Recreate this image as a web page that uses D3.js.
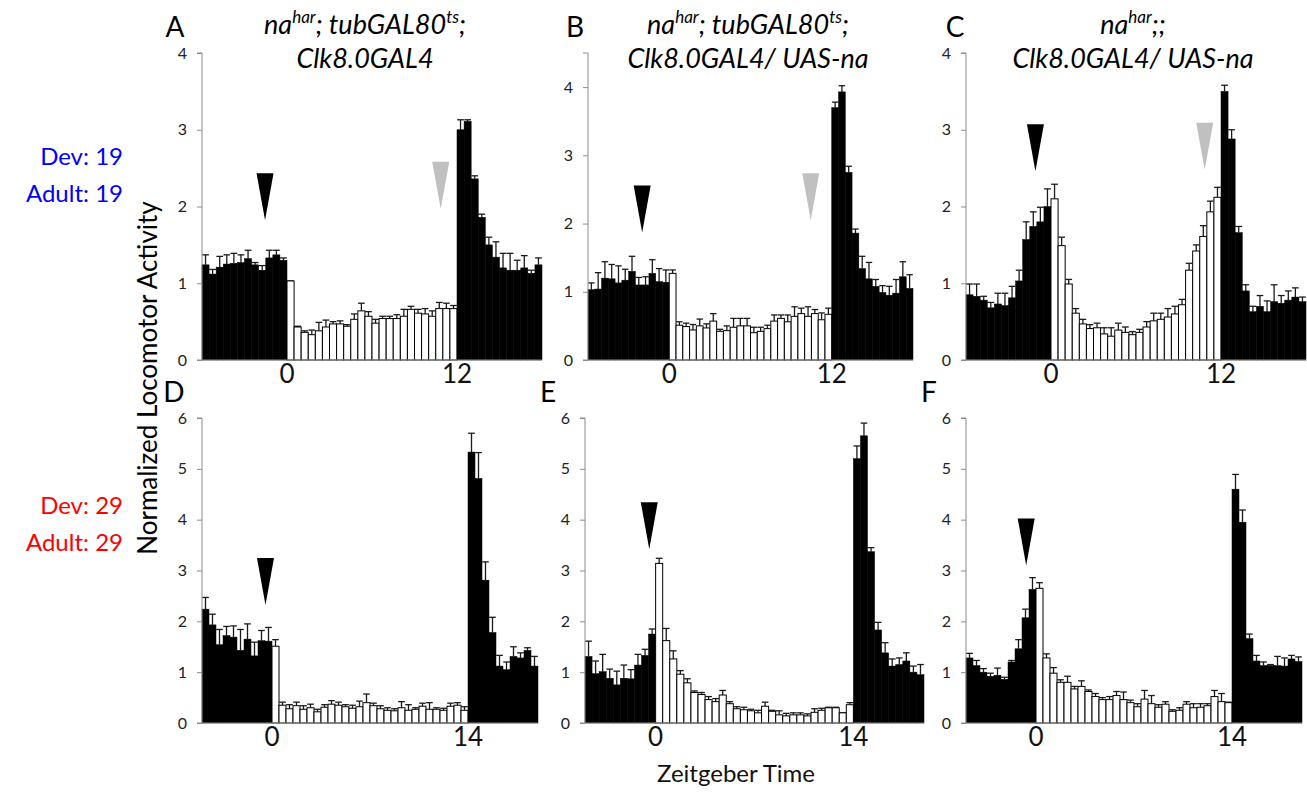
<!DOCTYPE html>
<html>
<head>
<meta charset="utf-8">
<script src="https://cdn.jsdelivr.net/npm/d3@7"></script>
<style>
  body { margin: 0; background: #fff; }
  svg { display: block; font-family: Lato, "Open Sans", sans-serif; }
</style>
</head>
<body>
<svg id="fig" width="1307" height="793"></svg>
<script>
// 30-min bins, 48 per panel. Top row: 12 dark / 24 light / 12 dark, bottom row: 10 / 28 / 10
const aMean = [1.24,1.12,1.21,1.25,1.26,1.27,1.32,1.24,1.17,1.33,1.37,1.30,
  1.03,0.43,0.36,0.33,0.38,0.43,0.47,0.47,0.44,0.53,0.64,0.57,0.48,0.54,0.54,0.54,0.57,0.66,0.61,0.60,0.57,0.67,0.67,0.67,
  3.00,3.11,2.36,1.86,1.50,1.34,1.20,1.17,1.17,1.20,1.13,1.24];
const aSem = [0.13,0.06,0.14,0.12,0.13,0.10,0.11,0.03,0.06,0.10,0.06,0.03,
  0.00,0.01,0.02,0.06,0.11,0.09,0.03,0.04,0.02,0.07,0.10,0.06,0.05,0.03,0.03,0.05,0.09,0.04,0.05,0.07,0.07,0.08,0.07,0.04,
  0.13,0.02,0.04,0.04,0.10,0.20,0.19,0.22,0.13,0.16,0.04,0.09];

const bMean = [1.03,1.04,1.20,1.19,1.13,1.17,1.30,1.10,1.10,1.27,1.15,1.14,
  1.27,0.51,0.49,0.44,0.50,0.47,0.57,0.42,0.43,0.48,0.50,0.50,0.40,0.42,0.46,0.57,0.61,0.56,0.64,0.68,0.64,0.68,0.59,0.67,
  3.70,3.93,2.75,1.86,1.34,1.19,1.08,0.99,0.95,0.98,1.22,1.05];
const bSem = [0.10,0.24,0.24,0.21,0.25,0.16,0.22,0.11,0.12,0.20,0.19,0.18,
  0.05,0.05,0.05,0.08,0.10,0.06,0.11,0.03,0.07,0.13,0.11,0.11,0.08,0.06,0.05,0.09,0.05,0.10,0.14,0.08,0.14,0.06,0.10,0.09,
  0.08,0.09,0.09,0.06,0.18,0.24,0.10,0.10,0.13,0.20,0.22,0.20];

const cMean = [0.85,0.83,0.78,0.68,0.73,0.71,0.81,1.03,1.57,1.74,1.80,2.00,
  2.10,1.49,0.99,0.61,0.47,0.41,0.42,0.34,0.31,0.39,0.36,0.33,0.36,0.43,0.51,0.53,0.56,0.60,0.72,1.17,1.42,1.61,1.93,2.12,
  3.50,2.88,1.66,0.90,0.63,0.70,0.63,0.76,0.74,0.78,0.82,0.76];
const cSem = [0.14,0.16,0.05,0.07,0.14,0.16,0.15,0.14,0.23,0.19,0.19,0.23,
  0.19,0.11,0.06,0.06,0.06,0.05,0.06,0.08,0.11,0.09,0.07,0.04,0.04,0.07,0.10,0.08,0.11,0.10,0.07,0.09,0.08,0.14,0.14,0.13,
  0.08,0.12,0.08,0.08,0.07,0.14,0.14,0.22,0.10,0.12,0.12,0.06];

const dMean = [2.24,1.93,1.54,1.72,1.69,1.43,1.65,1.32,1.62,1.61,
  1.51,0.35,0.28,0.34,0.27,0.30,0.22,0.31,0.37,0.35,0.32,0.29,0.32,0.40,0.34,0.28,0.25,0.24,0.30,0.25,0.27,0.33,0.27,0.27,0.25,0.33,0.35,0.25,
  5.33,4.81,2.81,1.78,1.12,1.05,1.31,1.28,1.43,1.12];
const dSem = [0.23,0.21,0.30,0.18,0.22,0.41,0.30,0.27,0.20,0.27,
  0.13,0.06,0.08,0.07,0.07,0.07,0.05,0.05,0.07,0.06,0.04,0.06,0.11,0.17,0.05,0.06,0.05,0.04,0.12,0.11,0.03,0.06,0.13,0.03,0.04,0.06,0.05,0.07,
  0.37,0.51,0.36,0.30,0.21,0.15,0.19,0.10,0.05,0.19];

const eMean = [1.31,0.97,1.01,0.88,0.75,0.88,0.87,1.14,1.33,1.75,
  3.14,1.62,1.26,0.96,0.79,0.60,0.56,0.46,0.42,0.55,0.38,0.28,0.26,0.24,0.20,0.33,0.23,0.16,0.14,0.16,0.16,0.14,0.21,0.25,0.30,0.30,0.20,0.36,
  5.20,5.65,3.37,1.83,1.38,1.12,1.15,1.22,1.00,0.95];
const eSem = [0.30,0.25,0.34,0.18,0.27,0.26,0.18,0.21,0.12,0.10,
  0.10,0.24,0.16,0.07,0.08,0.03,0.04,0.06,0.06,0.09,0.04,0.04,0.05,0.03,0.05,0.08,0.02,0.08,0.05,0.04,0.04,0.04,0.07,0.04,0.01,0.01,0.00,0.04,
  0.25,0.25,0.08,0.15,0.20,0.14,0.13,0.16,0.12,0.20];

const fMean = [1.28,1.13,1.00,0.92,0.94,0.86,1.20,1.46,2.07,2.63,
  2.65,1.28,0.98,0.80,0.80,0.67,0.72,0.62,0.52,0.46,0.46,0.54,0.46,0.40,0.32,0.47,0.38,0.31,0.37,0.23,0.25,0.37,0.30,0.31,0.34,0.52,0.42,0.40,
  4.60,3.95,1.66,1.22,1.13,1.13,1.13,1.12,1.26,1.21];
const fSem = [0.09,0.10,0.07,0.06,0.14,0.04,0.03,0.18,0.17,0.23,
  0.11,0.08,0.11,0.05,0.12,0.05,0.11,0.03,0.06,0.04,0.06,0.08,0.15,0.05,0.06,0.17,0.16,0.05,0.05,0.03,0.05,0.05,0.08,0.07,0.04,0.12,0.16,0.01,
  0.29,0.24,0.09,0.11,0.07,0.02,0.18,0.16,0.07,0.09];

const topTicks = [0, 1, 2, 3, 4];
const bottomTicks = [0, 1, 2, 3, 4, 5, 6];
const topXLabels = ["0", "12"];
const bottomXLabels = ["0", "14"];

// arrowheads: bin position (from left edge of plot, in bins) and tip value
const arrows = [
  {panel: "A", pos: 8.9, tip: 1.82, gray: false},
  {panel: "A", pos: 33.7, tip: 1.97, gray: true},
  {panel: "B", pos: 8.0, tip: 1.87, gray: false},
  {panel: "B", pos: 32.9, tip: 2.05, gray: true},
  {panel: "C", pos: 9.8, tip: 2.46, gray: false},
  {panel: "C", pos: 33.7, tip: 2.48, gray: true},
  {panel: "D", pos: 9.07, tip: 2.32, gray: false},
  {panel: "E", pos: 9.1, tip: 3.42, gray: false},
  {panel: "F", pos: 8.6, tip: 3.1, gray: false}
];

const titleAB = [["na", false], ["har", true], ["; tubGAL80", false], ["ts", true], [";", false]];
const titleC = [["na", false], ["har", true], [";;", false]];

const panels = [
  {id: "A", mean: aMean, sem: aSem, light: [12, 36], yMax: 4,   ticks: topTicks, xl: topXLabels, x0: 202, x1: 542, yb: 360, yt: 53,
   title: titleAB, title2: "Clk8.0GAL4", tx: 365, lx: 175},
  {id: "B", mean: bMean, sem: bSem, light: [12, 36], yMax: 4.5, ticks: topTicks, xl: topXLabels, x0: 588, x1: 913, yb: 360, yt: 53,
   title: titleAB, title2: "Clk8.0GAL4/ UAS-na", tx: 748, lx: 575},
  {id: "C", mean: cMean, sem: cSem, light: [12, 36], yMax: 4,   ticks: topTicks, xl: topXLabels, x0: 966, x1: 1306, yb: 360, yt: 53,
   title: titleC, title2: "Clk8.0GAL4/ UAS-na", tx: 1133, lx: 955},
  {id: "D", mean: dMean, sem: dSem, light: [10, 38], yMax: 6, ticks: bottomTicks, xl: bottomXLabels, x0: 202, x1: 538, yb: 723, yt: 418, lx: 174},
  {id: "E", mean: eMean, sem: eSem, light: [10, 38], yMax: 6, ticks: bottomTicks, xl: bottomXLabels, x0: 585, x1: 924, yb: 723, yt: 418, lx: 548},
  {id: "F", mean: fMean, sem: fSem, light: [10, 38], yMax: 6, ticks: bottomTicks, xl: bottomXLabels, x0: 966, x1: 1302, yb: 723, yt: 418, lx: 929}
];

const svg = d3.select("#fig");
const axisGray = "#8c8c8c";
const titleSize = 27, supSize = 17, supShift = 11;

panels.forEach(p => {
  const g = svg.append("g");
  const n = p.mean.length;
  const x = d3.scaleBand().domain(d3.range(n)).range([p.x0, p.x1]).paddingInner(0);
  const xPos = d3.scaleLinear().domain([0, n]).range([p.x0, p.x1]);
  const y = d3.scaleLinear().domain([0, p.yMax]).range([p.yb, p.yt]);
  const isLight = i => i >= p.light[0] && i < p.light[1];

  // error bars (upper only)
  const capW = x.bandwidth() * 0.95;
  const err = g.append("g").attr("stroke", "#1a1a1a").attr("stroke-width", 1.3);
  p.mean.forEach((m, i) => {
    const cx = x(i) + x.bandwidth() / 2;
    const top = y(m + p.sem[i]);
    err.append("line").attr("x1", cx).attr("x2", cx).attr("y1", y(m)).attr("y2", top);
    err.append("line").attr("x1", cx - capW / 2).attr("x2", cx + capW / 2).attr("y1", top).attr("y2", top);
  });

  // bars
  g.append("g").selectAll("rect")
    .data(p.mean)
    .join("rect")
      .attr("x", (d, i) => x(i))
      .attr("width", x.bandwidth())
      .attr("y", d => y(d))
      .attr("height", d => y(0) - y(d))
      .attr("fill", (d, i) => isLight(i) ? "#fff" : "#000")
      .attr("stroke", "#000")
      .attr("stroke-width", (d, i) => isLight(i) ? 1 : 0.5);

  // y axis
  const yAxis = d3.axisLeft(y).tickValues(p.ticks).tickSize(5).tickPadding(10).tickFormat(d3.format("d"));
  const ax = g.append("g").attr("transform", `translate(${p.x0},0)`).call(yAxis);
  ax.select(".domain").attr("stroke", axisGray).attr("d", `M-5,${p.yt}H0V${p.yb}`);
  ax.selectAll(".tick line").attr("stroke", axisGray);
  ax.selectAll(".tick text").attr("font-size", 16).attr("fill", "#222").attr("font-family", "Lato, 'Open Sans', sans-serif");

  // baseline
  g.append("line").attr("x1", p.x0 - 5).attr("x2", p.x1).attr("y1", p.yb).attr("y2", p.yb)
    .attr("stroke", axisGray).attr("stroke-width", 1);

  // x tick labels at light on / light off
  p.xl.forEach((lab, k) => {
    g.append("text").attr("x", xPos(p.light[k])).attr("y", p.yb + 23)
      .attr("text-anchor", "middle").attr("font-size", 26).attr("fill", "#111").text(lab);
  });

  // arrowheads
  arrows.filter(a => a.panel === p.id).forEach(a => {
    const ax0 = xPos(a.pos), ay = y(a.tip);
    g.append("path")
      .attr("d", `M${ax0 - 8.5},${ay - 47}L${ax0 + 8.5},${ay - 47}L${ax0},${ay}Z`)
      .attr("fill", a.gray ? "#c0c0c0" : "#000");
  });

  // panel letter
  g.append("text").attr("x", p.lx).attr("y", p.yt - 16).attr("text-anchor", "middle")
    .attr("font-size", 28).attr("fill", "#000").text(p.id);

  // title (two lines, superscripts in line one)
  if (p.title) {
    const t = g.append("text").attr("x", p.tx).attr("y", 34).attr("text-anchor", "middle")
      .attr("font-size", titleSize).attr("font-style", "italic").attr("fill", "#000");
    let shift = 0;
    p.title.forEach(([s, sup]) => {
      const target = sup ? -supShift : 0;
      t.append("tspan").attr("font-size", sup ? supSize : titleSize).attr("dy", target - shift).text(s);
      shift = target;
    });
    g.append("text").attr("x", p.tx).attr("y", 68).attr("text-anchor", "middle")
      .attr("font-size", titleSize).attr("font-style", "italic").attr("fill", "#000").text(p.title2);
  }
});

// condition labels
const condLabels = [
  {text: "Dev: 19", y: 165, color: "#0000ff"},
  {text: "Adult: 19", y: 202, color: "#0000ff"},
  {text: "Dev: 29", y: 514, color: "#ff0000"},
  {text: "Adult: 29", y: 551, color: "#ff0000"}
];
svg.append("g").selectAll("text").data(condLabels).join("text")
  .attr("x", 123).attr("y", d => d.y).attr("text-anchor", "end")
  .attr("font-size", 24).attr("fill", d => d.color).text(d => d.text);

// axis titles
svg.append("text").attr("transform", "translate(157,378) rotate(-90)").attr("text-anchor", "middle")
  .attr("font-size", 26).attr("fill", "#000").text("Normalized Locomotor Activity");
svg.append("text").attr("x", 736).attr("y", 782).attr("text-anchor", "middle")
  .attr("font-size", 24).attr("fill", "#111").text("Zeitgeber Time");
</script>
</body>
</html>
